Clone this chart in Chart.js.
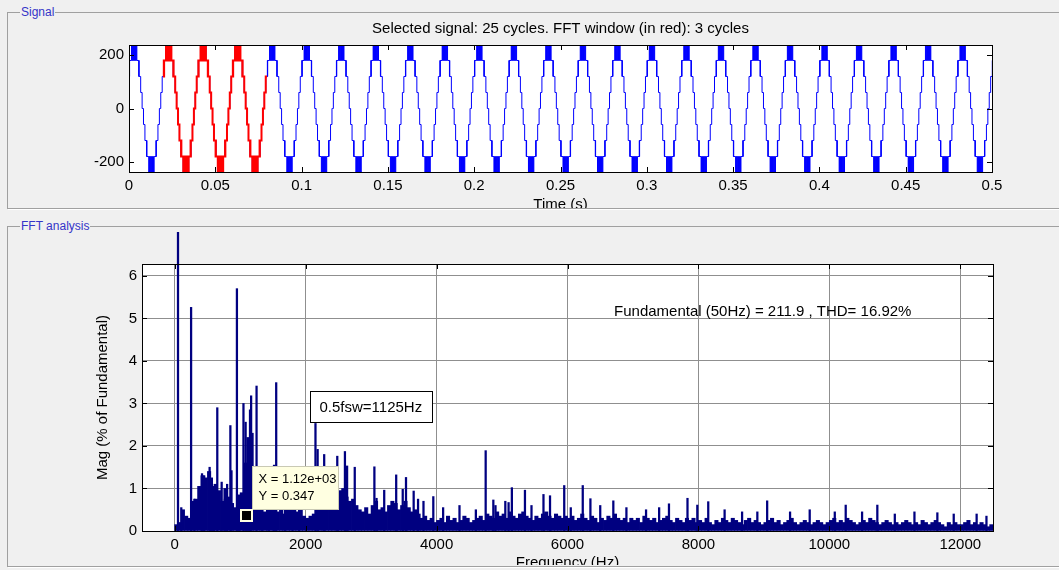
<!DOCTYPE html>
<html>
<head>
<meta charset="utf-8">
<script src="https://cdn.jsdelivr.net/npm/chart.js@4.4.1/dist/chart.umd.min.js"></script>
<style>
  html, body { margin: 0; padding: 0; background: #f0f0f0; width: 1059px; height: 570px; overflow: hidden; }
  .panel { position: absolute; border: 1px solid #a0a0a0; box-shadow: 1px 1px 0 #fff; }
  .ptitle { position: absolute; left: 12px; top: -8px; padding: 0 1px; background: #f0f0f0; color: #3434c8;
            font: 12px "Liberation Sans", Arial, sans-serif; line-height: 14px; }
  .holder { position: absolute; left: 0; width: 1059px; overflow: hidden; }
  canvas { display: block; }
</style>
</head>
<body>
<div class="panel" style="left:7px; top:12px; width:1060px; height:195px;"><span class="ptitle">Signal</span></div>
<div class="panel" style="left:7px; top:226px; width:1060px; height:339px;"><span class="ptitle">FFT analysis</span></div>
<div class="holder" style="top:14px; height:194px;"><canvas id="sigChart" width="1059" height="205"></canvas></div>
<div class="holder" style="top:228px; height:337px;"><canvas id="fftChart" width="1059" height="350"></canvas></div>

<script>
// ---- signal panel ----
const signalTitle = "Selected signal: 25 cycles. FFT window (in red): 3 cycles";
// one period of the staircase, ms after the rising zero crossing, and the level it steps to
const cycleMs = [0, 0.40, 1.23, 2.17, 2.26, 2.34, 3.44, 3.72, 3.88, 4.18, 4.34, 4.66, 4.82, 5.14, 5.30, 5.62, 5.78, 6.10, 6.26, 6.56, 7.66, 7.74, 7.83, 8.77, 9.60,
                 10.40, 11.23, 12.17, 12.26, 12.34, 13.44, 13.72, 13.88, 14.18, 14.34, 14.66, 14.82, 15.14, 15.30, 15.62, 15.78, 16.10, 16.26, 16.56, 17.66, 17.74, 17.83, 18.77, 19.60];
const cycleLevel = [0, 60, 120, 180, 120, 180, 238, 180, 238, 180, 238, 180, 238, 180, 238, 180, 238, 180, 238, 180, 120, 180, 120, 60, 0,
                    -60, -120, -180, -120, -180, -238, -180, -238, -180, -238, -180, -238, -180, -238, -180, -238, -180, -238, -180, -120, -180, -120, -60, 0];
const periodS = 0.02;
const cycleStarts = 26;          // periods drawn (the first one starts just before t = 0)
const firstZeroCrossS = -0.002;
const fftWindowS = [0.02, 0.08];
const signalXTicks = [0, 0.05, 0.1, 0.15, 0.2, 0.25, 0.3, 0.35, 0.4, 0.45, 0.5];
const signalYTicks = [-200, 0, 200];

// ---- FFT panel ----
const fundamentalHz = 50;
const fundamentalPct = 100;
const summaryText = "Fundamental (50Hz) = 211.9 , THD= 16.92%";
const fswText = "0.5fsw=1125Hz";
const tipX = 1116.7, tipY = 0.347;
const tipLines = ["X = 1.12e+03", "Y = 0.347"];
// noise floor, one value per 50 Hz from 25 Hz
const floorStartHz = 25, floorStepHz = 50;
const floorMag = [
  0.15, 0.2, 0.5, 0.35, 0.3, 0.7, 0.75, 1.05, 1.3, 1.25, 1.4, 1.0, 1.1, 0.95, 0.7, 1.0, 0.8, 0.65, 0.55, 0.5,
  0.9, 1.6, 2.2, 2.3, 1.2, 0.6, 0.5, 0.45, 0.6, 0.55, 0.6, 0.45, 0.5, 0.4, 0.55, 0.5, 0.6, 0.45, 0.5, 0.35,
  0.3, 0.35, 0.4, 0.85, 0.9, 0.8, 0.95, 1.0, 0.9, 1.05, 0.95, 1.0, 0.8, 0.7, 0.75, 0.6, 0.5, 0.45, 0.55, 0.4,
  0.6, 0.7, 0.5, 0.55, 0.45, 0.6, 0.7, 0.65, 0.5, 0.6, 0.7, 0.55, 0.45, 0.5, 0.4, 0.3, 0.35, 0.25, 0.3, 0.2,
  0.25, 0.3, 0.2, 0.35, 0.25, 0.3, 0.2, 0.25, 0.35, 0.3, 0.2, 0.25, 0.3, 0.35, 0.25, 0.4, 0.35, 0.3, 0.45, 0.35,
  0.4, 0.3, 0.45, 0.35, 0.3, 0.4, 0.45, 0.35, 0.3, 0.25, 0.35, 0.3, 0.4, 0.45, 0.35, 0.3, 0.4, 0.35, 0.3, 0.35,
  0.3, 0.35, 0.25, 0.3, 0.4, 0.3, 0.25, 0.35, 0.3, 0.2, 0.3, 0.25, 0.35, 0.3, 0.4, 0.3, 0.25, 0.3, 0.2, 0.3,
  0.25, 0.3, 0.2, 0.35, 0.3, 0.25, 0.3, 0.2, 0.25, 0.3, 0.35, 0.25, 0.2, 0.3, 0.25, 0.2, 0.3, 0.25, 0.3, 0.2,
  0.25, 0.2, 0.3, 0.2, 0.15, 0.25, 0.2, 0.3, 0.25, 0.2, 0.3, 0.25, 0.2, 0.15, 0.25, 0.3, 0.2, 0.25, 0.2, 0.15,
  0.2, 0.25, 0.3, 0.2, 0.25, 0.15, 0.2, 0.25, 0.3, 0.2, 0.15, 0.2, 0.25, 0.2, 0.15, 0.2, 0.25, 0.2, 0.15, 0.2,
  0.25, 0.3, 0.2, 0.25, 0.2, 0.3, 0.25, 0.2, 0.15, 0.2, 0.25, 0.2, 0.3, 0.25, 0.2, 0.15, 0.2, 0.25, 0.2, 0.15,
  0.2, 0.15, 0.2, 0.25, 0.2, 0.15, 0.2, 0.15, 0.25, 0.2, 0.15, 0.2, 0.25, 0.2, 0.15, 0.1, 0.2, 0.15, 0.2, 0.15,
  0.15, 0.2, 0.25, 0.15, 0.2, 0.15, 0.2, 0.15, 0.1, 0.15
];
// the taller harmonic lines
const spikeHz = [100, 250, 300, 417, 450, 533, 567, 600, 650, 717, 767, 800, 850, 867, 950, 983, 1050, 1083, 1117, 1150, 1167, 1250,
                 1333, 1433, 1517, 1550, 1683, 1800, 1900, 2150, 2183, 2283, 2483, 2600, 2633, 2750,
                 3050, 3083, 3200, 3383, 3483, 3533, 3650, 3717, 3800, 3950, 4100, 4350, 4600, 4750, 4867, 4900, 5050, 5100, 5150, 5350, 5450,
                 5633, 5733, 5950, 6050, 6233, 6350, 6500, 6700, 6900, 7200, 7400, 7550, 7833, 7983, 8150, 8400, 8667, 8900, 9050, 9400,
                 9700, 10083, 10250, 10500, 10733, 11000, 11300, 11650, 11900, 12250, 12400];
const spikeMag = [0.55, 5.26, 0.75, 1.35, 1.3, 1.5, 1.25, 1.05, 2.9, 1.15, 0.75, 1.1, 2.48, 1.42, 5.7, 0.85, 3.0, 2.56, 0.347, 2.85, 3.18, 3.41,
                  0.9, 1.0, 1.55, 3.49, 0.85, 0.95, 0.8, 2.53, 1.92, 1.8, 1.76, 1.87, 1.53, 1.5,
                  1.51, 0.77, 0.96, 1.32, 0.98, 1.26, 0.94, 0.75, 0.7, 0.81, 0.55, 0.6, 0.5, 1.89, 0.73, 0.6, 0.7, 0.67, 1.02, 0.96, 0.6,
                  0.86, 0.83, 1.07, 0.55, 1.07, 0.76, 0.6, 0.71, 0.55, 0.5, 0.55, 0.64, 0.77, 0.61, 0.69, 0.5, 0.45, 0.45, 0.71, 0.45,
                  0.5, 0.45, 0.61, 0.45, 0.61, 0.4, 0.45, 0.43, 0.4, 0.4, 0.35];
const fftXTicks = [0, 2000, 4000, 6000, 8000, 10000, 12000];
const fftYTicks = [0, 1, 2, 3, 4, 5, 6];

Chart.defaults.font.family = "'Liberation Sans', Arial, sans-serif";
Chart.defaults.font.size = 15;
Chart.defaults.color = "#000";

const axesBox = {
  id: "axesBox",
  beforeDraw(chart) {
    const {ctx, chartArea: a} = chart;
    ctx.save();
    ctx.fillStyle = "#fff";
    ctx.fillRect(a.left, a.top, a.right - a.left, a.bottom - a.top);
    ctx.restore();
  },
  afterDraw(chart) {
    const {ctx, chartArea: a, scales} = chart;
    ctx.save();
    ctx.strokeStyle = "#000";
    ctx.lineWidth = 1;
    ctx.beginPath();
    scales.x.ticks.forEach(t => {
      const p = Math.round(scales.x.getPixelForValue(t.value)) + 0.5;
      ctx.moveTo(p, a.bottom); ctx.lineTo(p, a.bottom - 5);
      ctx.moveTo(p, a.top); ctx.lineTo(p, a.top + 5);
    });
    scales.y.ticks.forEach(t => {
      const p = Math.round(scales.y.getPixelForValue(t.value)) + 0.5;
      ctx.moveTo(a.left, p); ctx.lineTo(a.left + 5, p);
      ctx.moveTo(a.right, p); ctx.lineTo(a.right - 5, p);
    });
    ctx.stroke();
    ctx.strokeRect(Math.round(a.left) + 0.5, Math.round(a.top) + 0.5, Math.round(a.right - a.left), Math.round(a.bottom - a.top));
    ctx.restore();
  }
};

// axes title centred over the plot box, as MATLAB does
const boxTitle = {
  id: "boxTitle",
  afterDraw(chart) {
    const {ctx, chartArea: a} = chart;
    ctx.save();
    ctx.font = "15px 'Liberation Sans', Arial, sans-serif";
    ctx.fillStyle = "#000";
    ctx.textAlign = "center";
    ctx.textBaseline = "middle";
    ctx.fillText(signalTitle, (a.left + a.right) / 2, a.top - 16);
    ctx.restore();
  }
};

// build the time signal from the period table
const sigPoints = [];
for (let k = 0; k < cycleStarts; k++) {
  const t0 = firstZeroCrossS + k * periodS;
  cycleMs.forEach((ms, i) => sigPoints.push({x: t0 + ms / 1000, y: cycleLevel[i]}));
}
function levelAt(t) {
  let v = sigPoints[0].y;
  sigPoints.forEach(p => { if (p.x <= t) v = p.y; });
  return v;
}
const redPoints = [{x: fftWindowS[0], y: levelAt(fftWindowS[0])}]
  .concat(sigPoints.filter(p => p.x > fftWindowS[0] && p.x < fftWindowS[1]))
  .concat([{x: fftWindowS[1], y: levelAt(fftWindowS[1])}]);

new Chart(document.getElementById("sigChart"), {
  type: "line",
  data: {
    datasets: [
      { data: redPoints, borderColor: "#ff0000", borderWidth: 2, pointRadius: 0, stepped: "before" },
      { data: sigPoints, borderColor: "#0000ff", borderWidth: 1, pointRadius: 0, stepped: "before" }
    ]
  },
  options: {
    responsive: false,
    animation: false,
    events: [],
    layout: { padding: { top: 31, left: 0, right: 67, bottom: 0 } },
    plugins: {
      legend: { display: false },
      tooltip: { enabled: false }
    },
    scales: {
      x: {
        type: "linear", min: 0, max: 0.5,
        grid: { display: false, drawTicks: false },
        border: { display: false },
        ticks: { padding: 5, maxRotation: 0, callback: v => String(v) },
        afterBuildTicks: s => { s.ticks = signalXTicks.map(v => ({value: v})); },
        afterFit: s => { s.height = 47; },
        title: { display: true, text: "Time (s)", padding: { top: 0, bottom: 5 } }
      },
      y: {
        min: -238, max: 238,
        grid: { display: false, drawTicks: false },
        border: { display: false },
        ticks: { padding: 5, callback: v => String(v) },
        afterBuildTicks: s => { s.ticks = signalYTicks.map(v => ({value: v})); },
        afterFit: s => { s.width = 129; }
      }
    }
  },
  plugins: [axesBox, boxTitle]
});

const fftNotes = {
  id: "fftNotes",
  afterDraw(chart) {
    const {ctx, scales: {x, y}} = chart;
    ctx.save();
    ctx.font = "15px 'Liberation Sans', Arial, sans-serif";
    ctx.fillStyle = "#000";
    ctx.textBaseline = "middle";
    ctx.fillText(summaryText, x.getPixelForValue(6711), y.getPixelForValue(5.15));

    // switching-frequency label box
    const bl = Math.round(x.getPixelForValue(2066)) + 0.5, br = Math.round(x.getPixelForValue(3930)) + 0.5;
    const bt = Math.round(y.getPixelForValue(3.29)) + 0.5, bb = Math.round(y.getPixelForValue(2.565)) + 0.5;
    ctx.fillStyle = "#fff";
    ctx.fillRect(bl, bt, br - bl, bb - bt);
    ctx.strokeStyle = "#000";
    ctx.lineWidth = 1;
    ctx.strokeRect(bl, bt, br - bl, bb - bt);
    ctx.fillStyle = "#000";
    ctx.fillText(fswText, bl + 9, (bt + bb) / 2 + 1);

    // data tip
    const px = x.getPixelForValue(tipX), py = y.getPixelForValue(tipY);
    const tl = Math.round(px) + 4.5, tt = Math.round(py) - 49.5;
    ctx.fillStyle = "#ffffe1";
    ctx.fillRect(tl, tt, 86, 43);
    ctx.strokeStyle = "#c9c9b4";
    ctx.strokeRect(tl, tt, 86, 43);
    ctx.fillStyle = "#000";
    ctx.font = "13px 'Liberation Sans', Arial, sans-serif";
    ctx.fillText(tipLines[0], tl + 6, tt + 13);
    ctx.fillText(tipLines[1], tl + 6, tt + 30);
    ctx.fillStyle = "#ffffe1";
    ctx.fillRect(Math.round(px) - 8, Math.round(py) - 7, 13, 13);
    ctx.fillStyle = "#000";
    ctx.fillRect(Math.round(px) - 6, Math.round(py) - 5, 9, 9);
    ctx.restore();
  }
};

const floorPoints = floorMag.map((m, i) => ({x: floorStartHz + i * floorStepHz, y: m}));
const spikePoints = spikeHz.map((f, i) => ({x: f, y: spikeMag[i]}));

new Chart(document.getElementById("fftChart"), {
  type: "bar",
  data: {
    datasets: [
      { data: [{x: fundamentalHz, y: fundamentalPct}], backgroundColor: "#000080", barThickness: 1.6, grouped: false,
        clip: { left: 0, top: 32, right: 0, bottom: 0 } },
      { data: spikePoints, backgroundColor: "#000080", barThickness: 1.6, grouped: false },
      { data: floorPoints, backgroundColor: "#000080", barThickness: 3.4, grouped: false }
    ]
  },
  options: {
    responsive: false,
    animation: false,
    events: [],
    layout: { padding: { top: 36, left: 88, right: 66, bottom: 0 } },
    plugins: { legend: { display: false }, tooltip: { enabled: false } },
    scales: {
      x: {
        type: "linear", min: -500, max: 12500, offset: false,
        grid: { color: "#8f8f8f", drawTicks: false, offset: false },
        border: { display: false },
        ticks: { padding: 5, maxRotation: 0, callback: v => String(v) },
        afterBuildTicks: s => { s.ticks = fftXTicks.map(v => ({value: v})); },
        afterFit: s => { s.height = 47; },
        title: { display: true, text: "Frequency (Hz)", padding: { top: 0, bottom: 6 } }
      },
      y: {
        min: 0, max: 6.28,
        grid: { color: "#8f8f8f", drawTicks: false },
        border: { display: false },
        ticks: { padding: 5, callback: v => String(v) },
        afterBuildTicks: s => { s.ticks = fftYTicks.map(v => ({value: v})); },
        afterFit: s => { s.width = 54; },
        title: { display: true, text: "Mag (% of Fundamental)", padding: { top: 6, bottom: 0 } }
      }
    }
  },
  plugins: [axesBox, fftNotes]
});
</script>
</body>
</html>
